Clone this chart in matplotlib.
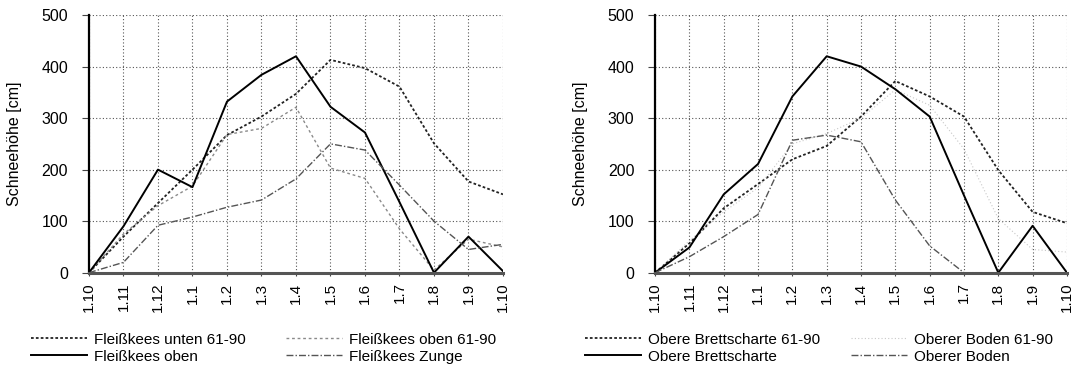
import matplotlib
matplotlib.use("Agg")
import matplotlib.pyplot as plt

plt.rcParams['font.family'] = ['Liberation Sans', 'DejaVu Sans']
plt.rcParams['font.size'] = 11

months = ["1.10", "1.11", "1.12", "1.1", "1.2", "1.3", "1.4", "1.5", "1.6", "1.7", "1.8", "1.9", "1.10"]

# Left chart
fk_unten_6190 = [0, 70, 135, 200, 267, 303, 347, 413, 397, 361, 251, 177, 152]
fk_oben_6190 = [0, 75, 130, 168, 268, 280, 321, 203, 183, 85, 5, 65, 50]
fk_oben = [0, 90, 200, 166, 332, 384, 420, 322, 272, 137, 0, 70, 3]
fk_zunge = [0, 20, 92, 108, 127, 141, 182, 250, 238, 170, 100, 45, 55]

# Right chart
ob_brett_6190 = [0, 57, 125, 172, 220, 246, 303, 372, 342, 303, 199, 118, 96]
ob_boden_6190 = [0, 62, 118, 165, 250, 270, 300, 355, 325, 240, 105, 45, 40]
ob_brett = [0, 49, 152, 211, 342, 420, 400, 356, 303, 150, 0, 91, 0]
ob_boden = [0, 31, 70, 113, 257, 267, 254, 141, 52, 0, 0, 0, 0]

yticks = [0, 100, 200, 300, 400, 500]

fig = plt.figure(figsize=(10.81, 3.67), dpi=100)

style_6190 = dict(color='#222222', lw=1.3, ls=(0, (1.5, 1.2)))
style_6190_light = dict(color='#8a8a8a', lw=1.0, ls=(0, (2, 2)))
style_solid = dict(color='#000000', lw=1.4, ls='-')
style_dashdot = dict(color='#555555', lw=1.0, ls=(0, (5, 1.5, 1, 1.5)))
style_vlight = dict(color='#c8c8c8', lw=0.8, ls=(0, (1, 2)))


def setup(ax):
    x = list(range(len(months)))
    ax.set_xlim(0, len(months) - 1)
    ax.set_ylim(0, 500)
    ax.set_xticks(x)
    ax.set_xticklabels(months, rotation=90)
    ax.set_yticks(yticks)
    ax.grid(True, color='#555555', lw=0.8, ls=(0, (1, 2)))
    ax.set_axisbelow(True)
    for s in ['top', 'right']:
        ax.spines[s].set_visible(False)
    ax.spines['left'].set_color('#000000')
    ax.spines['left'].set_linewidth(1.6)
    ax.spines['bottom'].set_color('#555555')
    ax.spines['bottom'].set_linewidth(2.2)
    ax.tick_params(axis='y', length=5, width=0.8, color='#444444', pad=10, labelsize=11.5)
    ax.tick_params(axis='x', length=2, width=0.8, color='#444444', pad=5, labelsize=11)
    ax.set_ylabel('Schneehöhe [cm]', fontsize=11.5, labelpad=14)
    return x


ax1 = fig.add_axes([0.0823, 0.257, 0.383, 0.702])
x = setup(ax1)
l1, = ax1.plot(x, fk_unten_6190, label='Fleißkees unten 61-90', **style_6190)
l2, = ax1.plot(x, fk_oben_6190, label='Fleißkees oben 61-90', **style_6190_light)
l3, = ax1.plot(x, fk_oben, label='Fleißkees oben', **style_solid)
l4, = ax1.plot(x, fk_zunge, label='Fleißkees Zunge', **style_dashdot)
fig.legend(handles=[l1, l3, l2, l4], loc='upper left', bbox_to_anchor=(0.0285, 0.094),
           ncol=2, frameon=False, fontsize=11, handlelength=3.7, handletextpad=0.45,
           columnspacing=2.6, labelspacing=0.2, borderaxespad=0, borderpad=0)

ax2 = fig.add_axes([0.606, 0.257, 0.381, 0.702])
x = setup(ax2)
r1, = ax2.plot(x, ob_brett_6190, label='Obere Brettscharte 61-90', **style_6190)
r2, = ax2.plot(x, ob_boden_6190, label='Oberer Boden 61-90', **style_vlight)
r3, = ax2.plot(x, ob_brett, label='Obere Brettscharte', **style_solid)
r4, = ax2.plot(x, ob_boden, label='Oberer Boden', **style_dashdot)
fig.legend(handles=[r1, r3, r2, r4], loc='upper left', bbox_to_anchor=(0.541, 0.094),
           ncol=2, frameon=False, fontsize=11, handlelength=3.7, handletextpad=0.45,
           columnspacing=2.0, labelspacing=0.2, borderaxespad=0, borderpad=0)

fig.savefig('out.png', dpi=100)
